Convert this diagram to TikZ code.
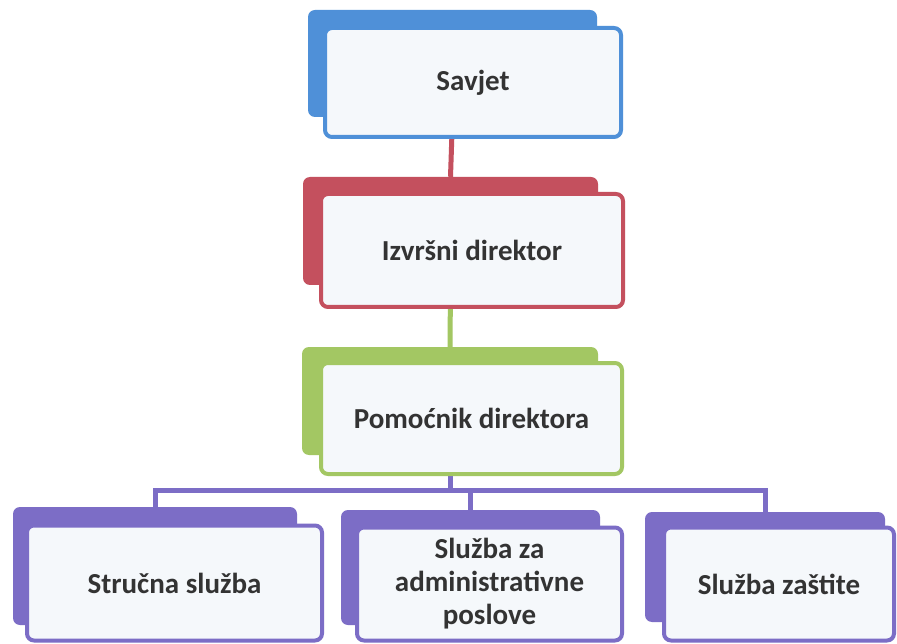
\documentclass[tikz,border=0pt]{standalone}
\usepackage{fontspec}
\setmainfont{Carlito}
\usetikzlibrary{calc}
\pgfdeclarelayer{background}
\pgfsetlayers{background,main}
\definecolor{cblue}{HTML}{4F90D8}
\definecolor{cred}{HTML}{C4505E}
\definecolor{cgreen}{HTML}{A3C763}
\definecolor{cpurple}{HTML}{7C6DC6}
\definecolor{cfill}{HTML}{F5F8FB}
\definecolor{ctext}{HTML}{333333}
\begin{document}
\begin{tikzpicture}[x=1pt,y=-1pt,
  backbox/.style={fill=#1, rounded corners=7pt, inner sep=0pt},
  frontbox/.style={draw=#1, line width=4pt, fill=cfill, rounded corners=7pt, inner sep=0pt,
    text=ctext, font=\fontsize{29}{33}\selectfont\bfseries, align=center},
  conn/.style={draw=#1, line width=5pt}]
\useasboundingbox (0,0) rectangle (897,644);
% back boxes
\node[backbox=cblue, minimum width=289pt, minimum height=107pt] (savB) at (452.5,63.5) {};
\node[backbox=cred, minimum width=295pt, minimum height=108pt] (dirB) at (450.5,231) {};
\node[backbox=cgreen, minimum width=296pt, minimum height=108pt] (pomB) at (450,401) {};
\node[backbox=cpurple, minimum width=284pt, minimum height=118pt] (s1B) at (155,566) {};
\node[backbox=cpurple, minimum width=259pt, minimum height=115pt] (s2B) at (470.5,567.5) {};
\node[backbox=cpurple, minimum width=240pt, minimum height=110pt] (s3B) at (765,567) {};
% front boxes
\node[frontbox=cblue, minimum width=296pt, minimum height=109pt] (sav) at (473,82.5) {Savjet};
\node[frontbox=cred, minimum width=302pt, minimum height=113pt] (dir) at (472,250.5) {Izvršni direktor};
\node[frontbox=cgreen, minimum width=301pt, minimum height=111pt] (pom) at (471.5,418.5) {Pomoćnik direktora};
\node[frontbox=cpurple, minimum width=295pt, minimum height=115pt] (s1) at (174.5,583) {Stručna služba};
\node[frontbox=cpurple, minimum width=265pt, minimum height=113pt] (s2) at (489.5,584) {Služba za\\administrativne\\poslove};
\node[frontbox=cpurple, minimum width=230pt, minimum height=113pt] (s3) at (779,584) {Služba zaštite};
% connectors
\coordinate (busy) at (0,490);
\begin{pgfonlayer}{background}
\fill[white] (0,0) rectangle (897,644);
\draw[conn=cred] (savB.south) -- (dirB.north);
\draw[conn=cgreen] (dirB.south) -- (pomB.north);
\draw[conn=cpurple] (pomB.south) -- (pomB.south |- busy) -| (s1B.north);
\draw[conn=cpurple] (pomB.south |- busy) -| (s2B.north);
\draw[conn=cpurple] (pomB.south |- busy) -| (s3B.north);
\end{pgfonlayer}
\end{tikzpicture}
\end{document}
